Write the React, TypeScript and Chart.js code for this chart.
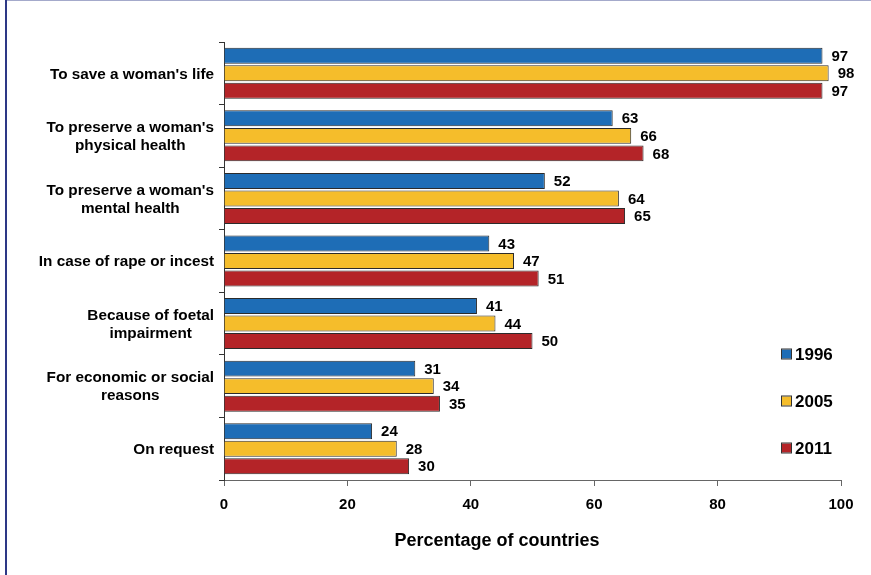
import React, { useEffect, useRef } from "react";
import { Chart, registerables } from "chart.js";

Chart.register(...registerables);

const categories: string[][] = [
  ["To save a woman's life"],
  ["To preserve a woman's", "physical health"],
  ["To preserve a woman's", "mental health"],
  ["In case of rape or incest"],
  ["Because of foetal", "impairment"],
  ["For economic or social", "reasons"],
  ["On request"],
];

const seriesNames = ["1996", "2005", "2011"];
const values1996 = [97, 63, 52, 43, 41, 31, 24];
const values2005 = [98, 66, 64, 47, 44, 34, 28];
const values2011 = [97, 68, 65, 51, 50, 35, 30];
const seriesColors = ["#1e6db6", "#f5bd2b", "#b42428"];

const xTicks = [0, 20, 40, 60, 80, 100];
const axisTitle = "Percentage of countries";

const FONT = "'Liberation Sans', Arial, Helvetica, sans-serif";

const overlayPlugin = {
  id: "overlay",
  beforeDraw(chart: any) {
    const { ctx } = chart;
    ctx.save();
    ctx.fillStyle = "#ffffff";
    ctx.fillRect(0, 0, chart.width, chart.height);
    // frame edges
    ctx.fillStyle = "#a4aacb";
    ctx.fillRect(5, 0, chart.width - 5, 1);
    ctx.fillStyle = "#2d3886";
    ctx.fillRect(5, 0, 2, chart.height);
    ctx.restore();
  },
  afterDraw(chart: any) {
    const { ctx, chartArea } = chart;
    const yScale = chart.scales.y;
    ctx.save();
    ctx.fillStyle = "#000";

    // category labels: block right-aligned, lines centred within block
    ctx.font = `bold 15.3px ${FONT}`;
    ctx.textBaseline = "middle";
    ctx.textAlign = "center";
    const right = chartArea.left - 10;
    const lh = 18;
    categories.forEach((lines, i) => {
      const cy = yScale.getPixelForValue(i);
      const w = Math.max(...lines.map((l) => ctx.measureText(l).width));
      const cx = right - w / 2;
      const y0 = cy - ((lines.length - 1) * lh) / 2;
      lines.forEach((l, k) => ctx.fillText(l, cx, y0 + k * lh + 1));
    });

    // value labels at bar ends
    ctx.font = `bold 15px ${FONT}`;
    ctx.textAlign = "left";
    chart.data.datasets.forEach((ds: any, di: number) => {
      const meta = chart.getDatasetMeta(di);
      meta.data.forEach((el: any, i: number) => {
        ctx.fillText(String(ds.data[i]), el.x + 9, el.y + 1);
      });
    });

    // axis title
    ctx.font = `bold 18px ${FONT}`;
    ctx.textAlign = "center";
    ctx.fillText(axisTitle, 497, 541);

    // legend
    const legendY = [354, 401, 448];
    chart.data.datasets.forEach((ds: any, di: number) => {
      const y = legendY[di];
      ctx.fillStyle = ds.backgroundColor;
      ctx.fillRect(782, y - 4.5, 9, 9);
      ctx.strokeStyle = "#333";
      ctx.lineWidth = 1;
      ctx.strokeRect(781.5, y - 5, 10, 10);
      ctx.fillStyle = "#000";
      ctx.font = `bold 17px ${FONT}`;
      ctx.textAlign = "left";
      ctx.fillText(ds.label, 795, y + 1);
    });
    ctx.restore();
  },
};

export default function App() {
  const ref = useRef<HTMLCanvasElement>(null);

  useEffect(() => {
    if (!ref.current) return;
    const series = [values1996, values2005, values2011];
    const chart = new Chart(ref.current, {
      type: "bar",
      data: {
        labels: categories.map((c) => c.join(" ")),
        datasets: series.map((data, i) => ({
          label: seriesNames[i],
          data,
          backgroundColor: seriesColors[i],
          borderColor: "#2b2b2b",
          borderWidth: 1,
          categoryPercentage: 0.84,
          barPercentage: 0.91,
        })),
      },
      options: {
        indexAxis: "y",
        animation: false,
        responsive: false,
        devicePixelRatio: 1,
        layout: { padding: { left: 0, top: 42, right: 30, bottom: 0 } },
        plugins: {
          legend: { display: false },
          tooltip: { enabled: false },
        },
        scales: {
          x: {
            min: 0,
            max: 100,
            afterFit: (s: any) => {
              s.height = 95;
            },
            afterBuildTicks: (s: any) => {
              s.ticks = xTicks.map((v) => ({ value: v }));
            },
            ticks: {
              color: "#000",
              font: { family: FONT, size: 15, weight: "bold" },
              padding: 10,
            },
            grid: {
              drawOnChartArea: false,
              drawTicks: true,
              tickLength: 6,
              color: "#666",
            },
            border: { display: true, color: "#666", width: 1 },
          },
          y: {
            afterFit: (s: any) => {
              s.width = 224;
            },
            ticks: { display: false },
            grid: {
              offset: true,
              drawOnChartArea: false,
              drawTicks: true,
              tickLength: 5,
              color: "#333",
            },
            border: { display: true, color: "#333", width: 1 },
          },
        },
      },
      plugins: [overlayPlugin],
    });
    return () => chart.destroy();
  }, []);

  return (
    <div style={{ position: "absolute", left: 0, top: 0, width: 871, height: 575 }}>
      <canvas ref={ref} width={871} height={575} />
    </div>
  );
}
